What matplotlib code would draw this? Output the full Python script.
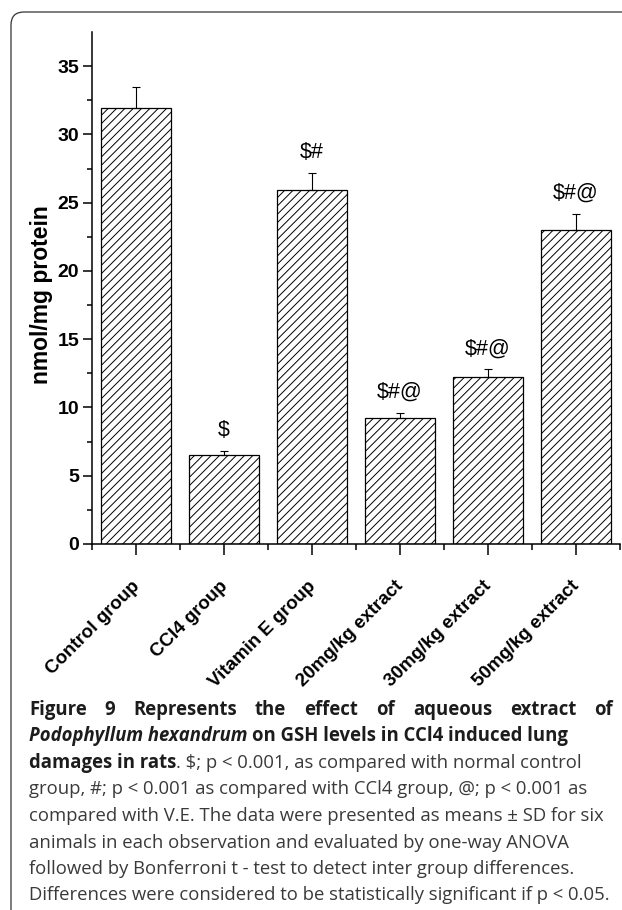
import numpy as np
import matplotlib
matplotlib.use("Agg")
import matplotlib.pyplot as plt
from matplotlib.patches import FancyBboxPatch
from matplotlib.transforms import IdentityTransform, ScaledTranslation

################### data ##############################
groups = ["Control group", "CCl4 group", "Vitamin E group",
          "20mg/kg extract", "30mg/kg extract", "50mg/kg extract"]
means = [31.9, 6.5, 25.9, 9.2, 12.2, 23.0]
sd = [1.6, 0.3, 1.3, 0.4, 0.6, 1.2]
signif = ["", r"\$", r"\$#", r"\$#@", r"\$#@", r"\$#@"]

W, H = 622, 910
plt.rcParams['font.family'] = ['Liberation Sans', 'DejaVu Sans']
plt.rcParams['hatch.linewidth'] = 0.7
fig = plt.figure(figsize=(W / 100, H / 100), dpi=100)

# rounded frame (top-left corner only visible)
frame = FancyBboxPatch((11, -40), 700, H - 12 + 40, boxstyle="round,pad=0,rounding_size=13",
                       transform=IdentityTransform(), fill=False, ec='#333333', lw=0.9)
fig.patches.append(frame)

ax = fig.add_axes([92 / W, 1 - 544 / H, 528 / W, (544 - 32) / H])
x = np.arange(len(groups))
ax.bar(x, means, width=0.8, color='white', edgecolor='black', hatch='////', linewidth=0.9, zorder=2)
ax.errorbar(x, means, yerr=[np.zeros(len(sd)), sd], fmt='none', ecolor='black',
            elinewidth=0.8, capsize=3, capthick=0.8, zorder=3)
for i in range(len(groups)):
    if signif[i]:
        ax.text(x[i], means[i] + sd[i] + 1.5, signif[i], ha='center', va='center', fontsize=15.5)

ax.set_xlim(-0.5, len(groups) - 0.5)
ax.set_ylim(0, 37.5)
ax.spines['top'].set_visible(False)
ax.spines['right'].set_visible(False)
for s in ['left', 'bottom']:
    ax.spines[s].set_linewidth(1.1)

ax.set_yticks(np.arange(0, 36, 5))
ax.set_yticks(np.arange(0, 37.5, 2.5), minor=True)
ax.set_yticklabels([str(v) for v in range(0, 36, 5)], fontweight='bold', fontsize=14)
ax.tick_params(axis='y', which='major', length=6.3, width=1.1, pad=3)
ax.tick_params(axis='y', which='minor', length=3.4, width=1.1)

ax.set_xticks(x)
ax.set_xticks(np.arange(-0.5, len(groups), 1.0), minor=True)
ax.set_xticklabels(groups, rotation=45, ha='right', va='top', fontweight='bold', fontsize=13.5)
ax.tick_params(axis='x', which='major', length=8, width=1.1, pad=16)
ax.tick_params(axis='x', which='minor', length=4.3, width=1.1)
off = ScaledTranslation(5 / 72, 0, fig.dpi_scale_trans)
for lab in ax.get_xticklabels():
    lab.set_transform(lab.get_transform() + off)

fig.text(42 / W, 1 - 295 / H, "nmol/mg protein", rotation=90, ha='center', va='center',
         fontweight='bold', fontsize=16.5)

################### caption ##############################
r = fig.canvas.get_renderer()
cap = ['Open Sans', 'DejaVu Sans']


def width(s, **kw):
    t = fig.text(0, 0, s, family=cap, **kw)
    w = t.get_window_extent(r).width
    t.remove()
    return w


left, right = 29, 613
ref = "Differences were considered to be statistically significant if p < 0.05."
fs = 10 * (right - left) / width(ref, fontsize=10)
body = '#3a3a3a'
head = '#1c1c1c'


def put(xp, yp, s, **kw):
    t = fig.text(xp / W, 1 - yp / H, s, family=cap, fontsize=fs, ha='left', va='center', **kw)
    return xp + t.get_window_extent(r).width


def line(yp, pieces):
    xp = left
    for s, kw, gap in pieces:
        if gap:
            xp += width("a a", fontsize=fs, **kw) - width("aa", fontsize=fs, **kw)
        xp = put(xp, yp, s, **kw)


y0, dy = 710, 26.5
B = dict(fontweight='bold', color=head)
BI = dict(fontweight='bold', style='italic', color=head)
N = dict(color=body)

# first line justified
words = "Figure 9 Represents the effect of aqueous extract of".split()
ws = [width(w_, fontsize=fs, fontweight='bold') for w_ in words]
gap = (right - left - sum(ws)) / (len(words) - 1)
xp = left
for w_, wd in zip(words, ws):
    put(xp, y0, w_, **B)
    xp += wd + gap

line(y0 + dy, [("Podophyllum hexandrum", BI, False), ("on GSH levels in CCl4 induced lung", B, True)])
line(y0 + 2 * dy, [("damages in rats", B, False),
                   (r". \$; p < 0.001, as compared with normal control", N, False)])
rest = ["group, #; p < 0.001 as compared with CCl4 group, @; p < 0.001 as",
        "compared with V.E. The data were presented as means \u00b1 SD for six",
        "animals in each observation and evaluated by one-way ANOVA",
        "followed by Bonferroni t - test to detect inter group differences.",
        ref]
for k, s in enumerate(rest):
    line(y0 + (3 + k) * dy, [(s, N, False)])

fig.savefig("out.png", dpi=100)
